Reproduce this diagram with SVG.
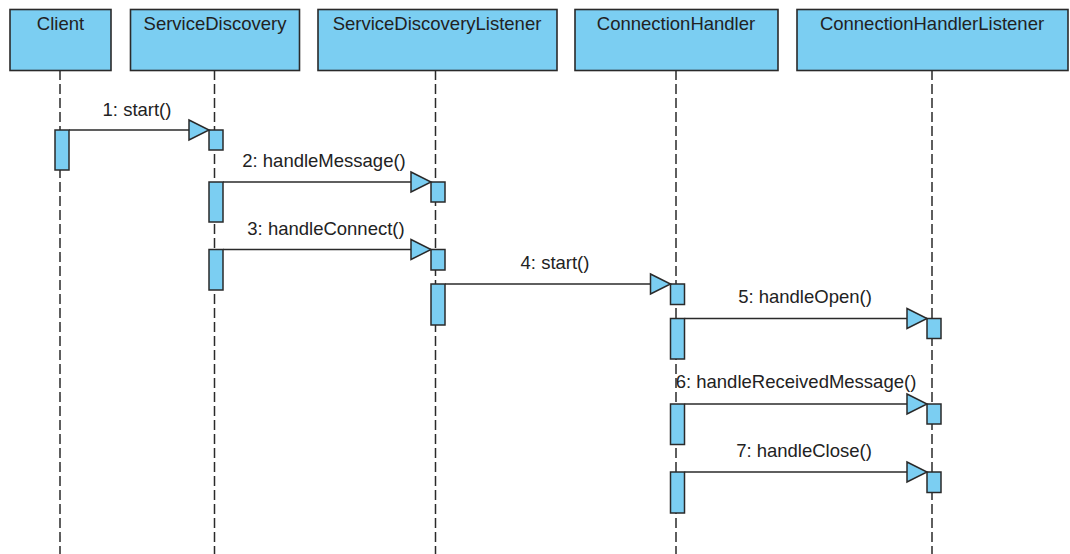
<svg xmlns="http://www.w3.org/2000/svg" width="1070" height="554" viewBox="0 0 1070 554">
  <style>
    .box { fill: #7BCEF2; stroke: #2a2a2a; stroke-width: 1.6; }
    .act { fill: #7BCEF2; stroke: #2a2a2a; stroke-width: 1.5; }
    .life { stroke: #2a2a2a; stroke-width: 1.5; stroke-dasharray: 10 4; fill: none; }
    .title { font-family: "Liberation Sans", Arial, sans-serif; font-size: 18.5px; fill: #222; text-anchor: middle; }
    .lbl { font-family: "Liberation Sans", Arial, sans-serif; font-size: 18.5px; fill: #222; text-anchor: middle; }
    .msg { stroke: #2a2a2a; stroke-width: 1.5; fill: none; marker-end: url(#tri); }
  </style>
  <defs>
    <marker id="tri" markerUnits="userSpaceOnUse" viewBox="-2 -2 24 24" refX="20" refY="10" markerWidth="24" markerHeight="24" orient="auto" overflow="visible">
      <path d="M0,0 L20,10 L0,20 Z" fill="#7BCEF2" stroke="#2a2a2a" stroke-width="1.5" stroke-linejoin="miter"/>
    </marker>
  </defs>
  <rect width="1070" height="554" fill="#ffffff"/>

  <g id="client">
    <line class="life" x1="60" y1="70" x2="60" y2="554"/>
    <rect class="box" x="10" y="9.5" width="101" height="61"/>
    <text class="title" x="60.5" y="30">Client</text>
    <rect class="act" x="55" y="130" width="14" height="40"/>
  </g>

  <g id="serviceDiscovery">
    <line class="life" x1="214.5" y1="70" x2="214.5" y2="554"/>
    <rect class="box" x="130.5" y="9.5" width="169" height="61"/>
    <text class="title" x="215" y="30">ServiceDiscovery</text>
    <rect class="act" x="209" y="130" width="14" height="20"/>
    <rect class="act" x="209" y="182" width="14" height="40"/>
    <rect class="act" x="209" y="249.5" width="14" height="40.5"/>
  </g>

  <g id="serviceDiscoveryListener">
    <line class="life" x1="435.5" y1="70" x2="435.5" y2="554"/>
    <rect class="box" x="318" y="9.5" width="239" height="61"/>
    <text class="title" x="437" y="30">ServiceDiscoveryListener</text>
    <rect class="act" x="431" y="182" width="14" height="20"/>
    <rect class="act" x="431" y="249.5" width="14" height="20.5"/>
    <rect class="act" x="431" y="284" width="14" height="41"/>
  </g>

  <g id="connectionHandler">
    <line class="life" x1="676" y1="70" x2="676" y2="554"/>
    <rect class="box" x="575" y="9.5" width="203" height="61"/>
    <text class="title" x="676" y="30">ConnectionHandler</text>
    <rect class="act" x="670.5" y="284" width="14" height="20.5"/>
    <rect class="act" x="670.5" y="318.5" width="14" height="40.5"/>
    <rect class="act" x="670.5" y="404" width="14" height="40.5"/>
    <rect class="act" x="670.5" y="472" width="14" height="41"/>
  </g>

  <g id="connectionHandlerListener">
    <line class="life" x1="932" y1="70" x2="932" y2="554"/>
    <rect class="box" x="797" y="9.5" width="271" height="61"/>
    <text class="title" x="932" y="30">ConnectionHandlerListener</text>
    <rect class="act" x="927" y="318.5" width="14" height="20"/>
    <rect class="act" x="927" y="404" width="14" height="20"/>
    <rect class="act" x="927" y="472" width="14" height="20.5"/>
  </g>

  <g id="connectors">
    <line class="msg" x1="69" y1="130" x2="209" y2="130"/>
    <text class="lbl" x="137" y="116">1: start()</text>

    <line class="msg" x1="223" y1="182" x2="431" y2="182"/>
    <text class="lbl" x="324" y="167">2: handleMessage()</text>

    <line class="msg" x1="223" y1="249.5" x2="431" y2="249.5"/>
    <text class="lbl" x="326" y="235">3: handleConnect()</text>

    <line class="msg" x1="445" y1="284" x2="670.5" y2="284"/>
    <text class="lbl" x="555" y="269">4: start()</text>

    <line class="msg" x1="684.5" y1="318.5" x2="927" y2="318.5"/>
    <text class="lbl" x="805" y="303">5: handleOpen()</text>

    <line class="msg" x1="684.5" y1="404" x2="927" y2="404"/>
    <text class="lbl" x="796" y="388">6: handleReceivedMessage()</text>

    <line class="msg" x1="684.5" y1="472" x2="927" y2="472"/>
    <text class="lbl" x="804" y="457">7: handleClose()</text>
  </g>
</svg>
